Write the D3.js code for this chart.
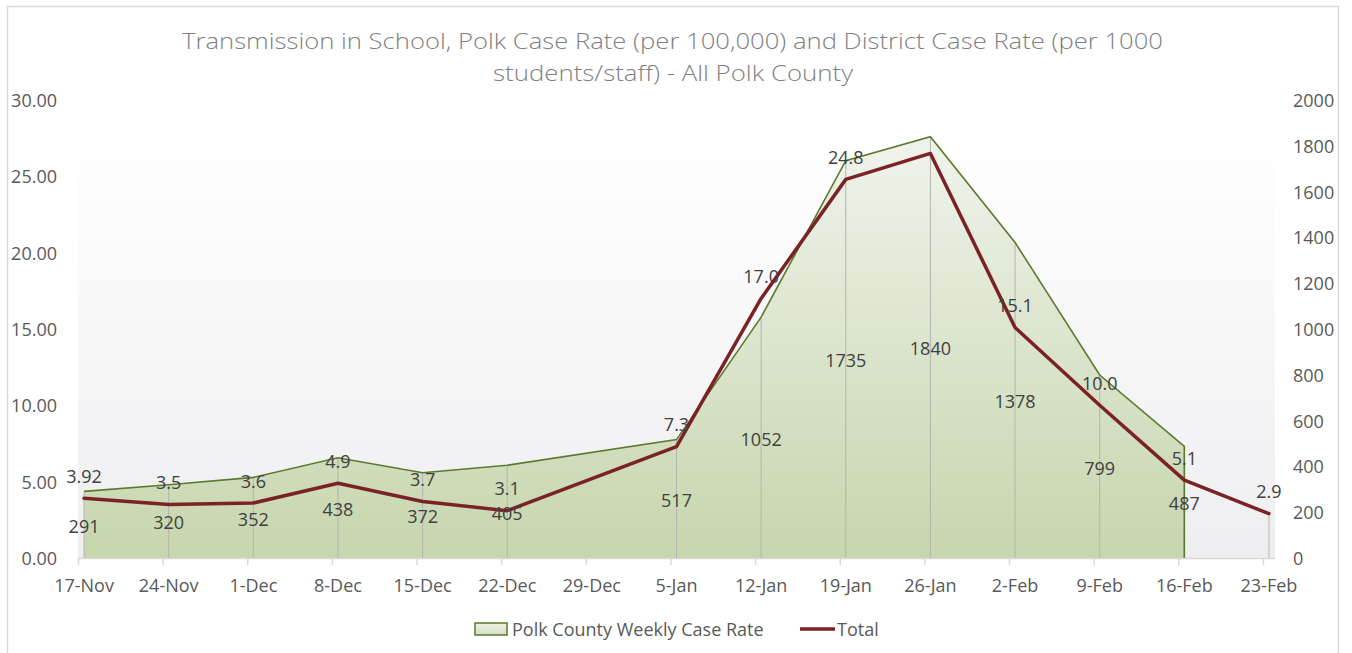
<!DOCTYPE html>
<html>
<head>
<meta charset="utf-8">
<script src="https://cdn.jsdelivr.net/npm/d3@7/dist/d3.min.js"></script>
<style>
  html, body { margin: 0; padding: 0; background: #ffffff; }
  svg { display: block; font-family: "Open Sans", "Noto Sans", sans-serif; }
</style>
</head>
<body>
<svg id="chart" width="1352" height="653"></svg>
<script>
// ---------------- data ----------------
const categories = ["17-Nov","24-Nov","1-Dec","8-Dec","15-Dec","22-Dec","29-Dec","5-Jan","12-Jan","19-Jan","26-Jan","2-Feb","9-Feb","16-Feb","23-Feb"];
const polkRate = [291, 320, 352, 438, 372, 405, null, 517, 1052, 1735, 1840, 1378, 799, 487, null];
const totalRate = [3.92, 3.5, 3.6, 4.9, 3.7, 3.1, null, 7.3, 17.0, 24.8, 26.5, 15.1, 10.0, 5.1, 2.9];
const totalLabels = ["3.92","3.5","3.6","4.9","3.7","3.1",null,"7.3","17.0","24.8",null,"15.1","10.0","5.1","2.9"];
const leftTicks = [0, 5, 10, 15, 20, 25, 30];
const rightTicks = [0, 200, 400, 600, 800, 1000, 1200, 1400, 1600, 1800, 2000];
const titleLines = ["Transmission in School, Polk Case Rate (per 100,000) and District Case Rate (per 1000", "students/staff) - All Polk County"];
const seriesNames = ["Polk County Weekly Case Rate", "Total"];

// ---------------- setup ----------------
const svg = d3.select("#chart");
const plot = { left: 78, right: 1275, top: 100, bottom: 558 };

const parse = s => {
  const mon = s.split("-")[1];
  const yr = (mon === "Nov" || mon === "Dec") ? 2020 : 2021;
  return d3.utcParse("%d-%b-%Y")(s + "-" + yr);
};
const dates = categories.map(parse);
const endDate = d3.utcDay.offset(dates[dates.length - 1], 1);

const x = d3.scaleUtc().domain([dates[0], endDate]).range([plot.left, plot.right]);
const halfDay = (x(d3.utcDay.offset(dates[0], 1)) - x(dates[0])) / 2;
const px = i => x(dates[i]) + halfDay;

const yL = d3.scaleLinear().domain([0, 30]).range([plot.bottom, plot.top]);
const yR = d3.scaleLinear().domain([0, 2000]).range([plot.bottom, plot.top]);

const defs = svg.append("defs");
const bgGrad = defs.append("linearGradient").attr("id", "bgGrad")
  .attr("gradientUnits", "userSpaceOnUse").attr("x1", 0).attr("x2", 0).attr("y1", 157).attr("y2", plot.bottom);
bgGrad.append("stop").attr("offset", 0).attr("stop-color", "#fefefe");
bgGrad.append("stop").attr("offset", 1).attr("stop-color", "#eeeef1");

const areaGrad = defs.append("linearGradient").attr("id", "areaGrad")
  .attr("gradientUnits", "userSpaceOnUse").attr("x1", 0).attr("x2", 0).attr("y1", yR(1840)).attr("y2", plot.bottom);
areaGrad.append("stop").attr("offset", 0).attr("stop-color", "#f0f3ec");
areaGrad.append("stop").attr("offset", 1).attr("stop-color", "#c6d6ad");

const legGrad = defs.append("linearGradient").attr("id", "legGrad").attr("x1", 0).attr("x2", 0).attr("y1", 0).attr("y2", 1);
legGrad.append("stop").attr("offset", 0).attr("stop-color", "#edf2e6");
legGrad.append("stop").attr("offset", 1).attr("stop-color", "#d3dfc3");

// chart border
svg.append("rect").attr("x", 7.5).attr("y", 6.5).attr("width", 1331).attr("height", 660)
  .attr("fill", "none").attr("stroke", "#d9d9d9").attr("stroke-width", 1.5);

// plot background
svg.append("rect").attr("x", plot.left).attr("y", 157)
  .attr("width", plot.right - plot.left).attr("height", plot.bottom - 157)
  .attr("fill", "url(#bgGrad)");

// title
const title = svg.append("g").attr("fill", "#7f7f7f").attr("font-size", 22).attr("font-weight", 300).attr("text-anchor", "middle");
title.append("text").attr("x", 672.5).attr("y", 40).attr("dominant-baseline", "central")
  .attr("textLength", 981).attr("lengthAdjust", "spacingAndGlyphs").text(titleLines[0]);
title.append("text").attr("x", 673).attr("y", 72).attr("dominant-baseline", "central")
  .attr("textLength", 360).attr("lengthAdjust", "spacingAndGlyphs").text(titleLines[1]);

// area series
const areaData = polkRate.map((v, i) => ({ i, v })).filter(d => d.v !== null);
const area = d3.area().x(d => px(d.i)).y0(plot.bottom).y1(d => yR(d.v));
const areaLine = d3.line().x(d => px(d.i)).y(d => yR(d.v));
svg.append("path").datum(areaData).attr("d", area).attr("fill", "url(#areaGrad)");

// drop lines
const dropG = svg.append("g").attr("stroke", "#b3b5b0").attr("stroke-width", 1);
categories.forEach((c, i) => {
  let top = null;
  if (polkRate[i] !== null) top = yR(polkRate[i]);
  else if (totalRate[i] !== null && i === categories.length - 1) top = yL(totalRate[i]);
  if (top === null) return;
  dropG.append("line").attr("x1", px(i)).attr("x2", px(i)).attr("y1", top).attr("y2", plot.bottom);
});

// area outline (top + right drop)
const last = areaData[areaData.length - 1];
svg.append("path")
  .attr("d", areaLine(areaData) + `L${px(last.i)},${plot.bottom}`)
  .attr("fill", "none").attr("stroke", "#5b7a2e").attr("stroke-width", 1.6);

// x axis
const xAxisG = svg.append("g").attr("transform", `translate(0,${plot.bottom})`)
  .call(d3.axisBottom(x).tickValues(dates).tickSize(7).tickSizeOuter(0).tickFormat(""));
xAxisG.select(".domain").attr("stroke", "#d9d9d9").attr("stroke-width", 1.5);
xAxisG.selectAll(".tick line").attr("stroke", "#d9d9d9").attr("stroke-width", 1.5);
svg.append("g").selectAll("text").data(categories).join("text")
  .attr("x", (d, i) => px(i)).attr("y", 585).attr("dominant-baseline", "central")
  .attr("text-anchor", "middle").attr("font-size", 18).attr("fill", "#595959").text(d => d);

// left axis
const lAxis = svg.append("g").attr("transform", `translate(57,0)`)
  .call(d3.axisLeft(yL).tickValues(leftTicks).tickSize(0).tickPadding(0).tickFormat(d3.format(".2f")));
lAxis.select(".domain").remove();
lAxis.selectAll("text").attr("font-size", 18).attr("fill", "#595959").attr("font-family", "Open Sans").attr("dy", "0.36em");

// right axis
const rAxis = svg.append("g").attr("transform", `translate(1293,0)`)
  .call(d3.axisRight(yR).tickValues(rightTicks).tickSize(0).tickPadding(0).tickFormat(d3.format("d")));
rAxis.select(".domain").remove();
rAxis.selectAll("text").attr("font-size", 18).attr("fill", "#595959").attr("font-family", "Open Sans").attr("dy", "0.36em");

// total line
const lineData = totalRate.map((v, i) => ({ i, v })).filter(d => d.v !== null);
const line = d3.line().x(d => px(d.i)).y(d => yL(d.v));
svg.append("path").datum(lineData).attr("d", line)
  .attr("fill", "none").attr("stroke", "#7b2226").attr("stroke-width", 3.5)
  .attr("stroke-linejoin", "round").attr("stroke-linecap", "round");

// data labels - area (centered in area)
svg.append("g").selectAll("text").data(areaData).join("text")
  .attr("x", d => px(d.i)).attr("y", d => (yR(d.v) + plot.bottom) / 2 + 1)
  .attr("text-anchor", "middle").attr("dominant-baseline", "central")
  .attr("font-size", 18).attr("fill", "#404040").text(d => d3.format("d")(d.v));

// data labels - total (above)
const lblData = totalRate.map((v, i) => ({ i, v, t: totalLabels[i] })).filter(d => d.v !== null && d.t !== null);
svg.append("g").selectAll("text").data(lblData).join("text")
  .attr("x", d => px(d.i)).attr("y", d => yL(d.v) - 22.5)
  .attr("text-anchor", "middle").attr("dominant-baseline", "central")
  .attr("font-size", 18).attr("fill", "#404040").text(d => d.t);

// legend
const leg = svg.append("g");
leg.append("rect").attr("x", 475).attr("y", 623).attr("width", 32).attr("height", 12)
  .attr("fill", "url(#legGrad)").attr("stroke", "#5b7a2e").attr("stroke-width", 1.5);
leg.append("text").attr("x", 512).attr("y", 629).attr("dominant-baseline", "central")
  .attr("font-size", 18).attr("fill", "#595959").text(seriesNames[0]);
leg.append("line").attr("x1", 800).attr("x2", 835).attr("y1", 629).attr("y2", 629)
  .attr("stroke", "#7b2226").attr("stroke-width", 3.5);
leg.append("text").attr("x", 837).attr("y", 629).attr("dominant-baseline", "central")
  .attr("font-size", 18).attr("fill", "#595959").text(seriesNames[1]);
</script>
</body>
</html>
